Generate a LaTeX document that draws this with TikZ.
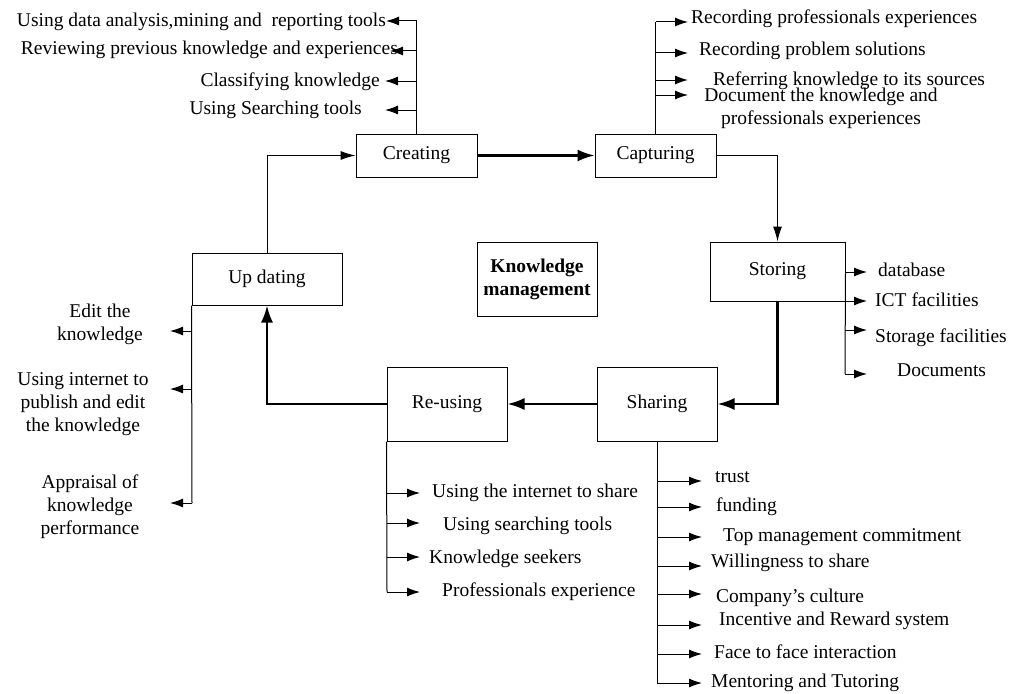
\documentclass[tikz,border=0pt]{standalone}
\usepackage{fontspec}
\setmainfont{Liberation Serif}
\usetikzlibrary{arrows.meta}

\tikzset{
  box/.style={draw,line width=1pt,inner sep=0pt,font=\fontsize{19.5}{23}\selectfont},
  lbl/.style={inner sep=0pt,text height=13pt,text depth=4pt,font=\fontsize{19.5}{23}\selectfont},
  mlbl/.style={inner sep=0pt,align=center,font=\fontsize{19.5}{23}\selectfont},
  spine/.style={line width=1pt},
  branch/.style={line width=1pt,-{Latex[length=13pt,width=9pt]}},
  flow/.style={line width=1pt,-{Latex[length=15pt,width=9pt]}},
  thickflow/.style={line width=2.2pt,-{Latex[length=17pt,width=12pt]}},
}

\begin{document}
\begin{tikzpicture}[x=1pt,y=-1pt]
\useasboundingbox (0,0) rectangle (1011,693);

% the cycle
\node[box,minimum width=121pt,minimum height=43pt] (creating) at (416.5,155.5) {Creating};
\node[box,minimum width=121pt,minimum height=43pt] (capturing) at (655.5,155.5) {Capturing};
\node[box,minimum width=135pt,minimum height=59pt] (storing) at (777.5,271.5) {Storing};
\node[box,minimum width=120pt,minimum height=74pt] (sharing) at (657,404) {Sharing};
\node[box,minimum width=120pt,minimum height=74pt] (reusing) at (447,404) {Re-using};
\node[box,minimum width=150pt,minimum height=52pt] (updating) at (267,279) {Up dating};
\node[box,minimum width=120pt,minimum height=74pt,align=center,font=\fontsize{19.5}{23}\selectfont\bfseries] (km) at (537,279) {Knowledge\\management};

\draw[thickflow] (creating.east) -- (capturing.west);
\draw[flow] (capturing.east) -| (storing.north);
\draw[thickflow] (storing.south) |- (sharing.east);
\draw[thickflow] (sharing.west) -- (reusing.east);
\draw[thickflow] (reusing.west) -| (updating.south);
\draw[flow] (updating.north) |- (creating.west);

% creating
\foreach \y/\tx/\lx/\ly/\txt [count=\i] in {
  21/386/386/22/{Using data analysis,mining and\ \ reporting tools},
  51/390/398/50/{Reviewing previous knowledge and experiences},
  81/385/380/82/{Classifying knowledge},
  110/385/362/110/{Using Searching tools}}{
  \coordinate (crS\i) at (416.5,\y);
  \coordinate (crT\i) at (\tx,\y);
  \node[lbl,anchor=east] (crL\i) at (\lx,\ly) {\txt};
  \draw[branch] (crS\i) -- (crT\i);
}
\draw[spine] (creating.north) -- (crS1);

% capturing
\foreach \y/\lx/\ly/\txt [count=\i] in {
  22/691/19/{Recording professionals experiences},
  53/699/51/{Recording problem solutions},
  80/713/81/{Referring knowledge to its sources}}{
  \coordinate (caS\i) at (655.5,\y);
  \coordinate (caT\i) at (688,\y);
  \node[lbl,anchor=west] (caL\i) at (\lx,\ly) {\txt};
  \draw[branch] (caS\i) -- (caT\i);
}
\coordinate (caS4) at (655.5,95);
\coordinate (caT4) at (688,95);
\node[mlbl] (caL4) at (821,108) {Document the knowledge and\\professionals experiences};
\draw[branch] (caS4) -- (caT4);
\draw[spine] (capturing.north) -- (caS1);

% storing
\foreach \y/\lx/\ly/\txt [count=\i] in {
  272/878/272/database,
  301/875/302/{ICT facilities},
  330/875/338/{Storage facilities},
  374/897/372/Documents}{
  \coordinate (stS\i) at (845,\y);
  \coordinate (stT\i) at (867,\y);
  \node[lbl,anchor=west] (stL\i) at (\lx,\ly) {\txt};
  \draw[branch] (stS\i) -- (stT\i);
}
\draw[spine] (storing.east) -- (stS4);

% sharing
\foreach \y/\lx/\ly/\txt [count=\i] in {
  481/715/478/trust,
  507/716/507/funding,
  537/723/537/{Top management commitment},
  566/711/563/{Willingness to share},
  594/716/598/{Company’s culture},
  625/719/621/{Incentive and Reward system},
  654/714/654/{Face to face interaction},
  683/711/683/{Mentoring and Tutoring}}{
  \coordinate (shS\i) at (657,\y);
  \coordinate (shT\i) at (702,\y);
  \node[lbl,anchor=west] (shL\i) at (\lx,\ly) {\txt};
  \draw[branch] (shS\i) -- (shT\i);
}
\draw[spine] (sharing.south) -- (shS8);

% re-using
\foreach \y/\lx/\ly/\txt [count=\i] in {
  493/432/493/{Using the internet to share},
  523/443/526/{Using searching tools},
  557/429/559/{Knowledge seekers},
  592/442/592/{Professionals experience}}{
  \coordinate (ruS\i) at (387,\y);
  \coordinate (ruT\i) at (420,\y);
  \node[lbl,anchor=west] (ruL\i) at (\lx,\ly) {\txt};
  \draw[branch] (ruS\i) -- (ruT\i);
}
\draw[spine] (reusing.south west) -- (ruS4);

% up dating
\foreach \y/\lx/\ly/\txt [count=\i] in {
  331/100/324/{Edit the\\knowledge},
  389/83/404/{Using internet to\\publish and edit\\the knowledge},
  503/90/507/{Appraisal of\\knowledge\\performance}}{
  \coordinate (upS\i) at (192,\y);
  \coordinate (upT\i) at (170,\y);
  \node[mlbl] (upL\i) at (\lx,\ly) {\txt};
  \draw[branch] (upS\i) -- (upT\i);
}
\draw[spine] (updating.south west) -- (upS3);
\end{tikzpicture}
\end{document}
